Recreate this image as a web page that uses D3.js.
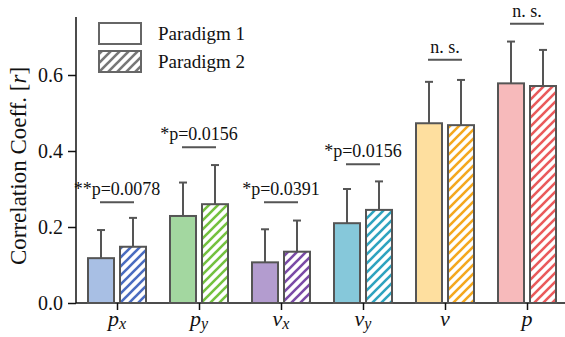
<!DOCTYPE html>
<html>
<head>
<meta charset="utf-8">
<script src="https://cdn.jsdelivr.net/npm/d3@7"></script>
<style>
  body { margin: 0; background: #fff; }
</style>
</head>
<body>
<div id="chart"></div>
<script>
// data
const categories = ["px", "py", "vx", "vy", "v", "p"]
const tickMain = ["p", "p", "v", "v", "v", "p"]
const tickSub = ["x", "y", "x", "y", "", ""]
const paradigm1 = [0.118, 0.229, 0.107, 0.210, 0.473, 0.578]
const paradigm1Err = [0.074, 0.088, 0.087, 0.090, 0.109, 0.110]
const paradigm2 = [0.148, 0.260, 0.135, 0.245, 0.468, 0.571]
const paradigm2Err = [0.076, 0.103, 0.082, 0.075, 0.119, 0.095]
const sigLabels = ["**p=0.0078", "*p=0.0156", "*p=0.0391", "*p=0.0156", "n. s.", "n. s."]
const sigLevel = [0.265, 0.41, 0.265, 0.365, 0.64, 0.735]
const fills = ["#a8bfe4", "#a3d7a0", "#b39ccf", "#86c8da", "#fedf9f", "#f7babb"]
const hatchColors = ["#4a6cc0", "#74c13f", "#7a4aa6", "#2ea3bf", "#f4a81f", "#ea5a5c"]
const yTicks = [0, 0.2, 0.4, 0.6]

const svgWidth = 565
const svgHeight = 337
const edge = "#555"
const serif = '"Liberation Serif"'

let svg = d3.select("#chart").append("svg")
  .attr("width", svgWidth)
  .attr("height", svgHeight)

const x = d3.scalePoint().domain(categories).range([117, 527])
const y = d3.scaleLinear().domain([0, 0.75]).range([303, 18])
const barW = 26, gap = 6

// hatch patterns, one per colour
const defs = svg.append("defs")
function hatch(id, color) {
  const p = defs.append("pattern")
    .attr("id", id)
    .attr("patternUnits", "userSpaceOnUse")
    .attr("width", 9).attr("height", 9)
  p.append("rect").attr("width", 9).attr("height", 9).attr("fill", "#fff")
  p.append("path")
    .attr("d", "M-2,2 L2,-2 M0,9 L9,0 M7,11 L11,7")
    .attr("stroke", color).attr("stroke-width", 2.6)
}
hatchColors.forEach((c, i) => hatch("h" + i, c))
hatch("hleg", "#777")

// axes
const yAxis = svg.append("g")
  .attr("transform", "translate(76,0)")
  .call(d3.axisLeft(y).tickValues(yTicks).tickFormat(d3.format(".1f")).tickSize(8).tickSizeOuter(0))
yAxis.select(".domain").attr("d", `M0,${y(0)}V17`)
yAxis.selectAll("line").attr("stroke", "#111").attr("stroke-width", 1.5)
yAxis.select(".domain").attr("stroke", "#111").attr("stroke-width", 1.5)
yAxis.selectAll("text").attr("font-size", 20).attr("fill", "#111").attr("x", -13)
  .style("font-family", serif)

const xAxis = svg.append("g")
  .attr("transform", `translate(0,${y(0)})`)
  .call(d3.axisBottom(x).tickSize(7).tickSizeOuter(0).tickFormat(""))
xAxis.select(".domain").attr("d", "M76,0H565").attr("stroke", "#111").attr("stroke-width", 1.5)
xAxis.selectAll("line").attr("stroke", "#111").attr("stroke-width", 1.5)

const xl = svg.append("g").selectAll("text")
  .data(categories)
  .join("text")
  .attr("x", d => x(d))
  .attr("y", 326)
  .attr("text-anchor", "middle")
  .attr("font-size", 22)
  .attr("font-style", "italic")
  .attr("fill", "#111")
  .style("font-family", serif)
xl.append("tspan").text((d, i) => tickMain[i])
xl.append("tspan").attr("font-size", 16).attr("dy", 3).text((d, i) => tickSub[i])

svg.append("text")
  .attr("transform", "translate(26,166) rotate(-90)")
  .attr("text-anchor", "middle")
  .attr("font-size", 23)
  .attr("fill", "#111")
  .style("font-family", serif)
  .html('Correlation Coeff. [<tspan font-style="italic">r</tspan>]')

function drawBars(vals, errs, offset, fillFn) {
  const g = svg.append("g")
  g.selectAll("line.err")
    .data(categories)
    .join("line")
    .attr("x1", d => x(d) + offset).attr("x2", d => x(d) + offset)
    .attr("y1", (d, i) => y(vals[i])).attr("y2", (d, i) => y(vals[i] + errs[i]))
    .attr("stroke", edge).attr("stroke-width", 2)
  g.selectAll("line.cap")
    .data(categories)
    .join("line")
    .attr("x1", d => x(d) + offset - 4).attr("x2", d => x(d) + offset + 4)
    .attr("y1", (d, i) => y(vals[i] + errs[i])).attr("y2", (d, i) => y(vals[i] + errs[i]))
    .attr("stroke", edge).attr("stroke-width", 2)
  g.selectAll("rect")
    .data(categories)
    .join("rect")
    .attr("x", d => x(d) + offset - barW / 2)
    .attr("y", (d, i) => y(vals[i]))
    .attr("width", barW)
    .attr("height", (d, i) => y(0) - y(vals[i]))
    .attr("fill", fillFn)
    .attr("stroke", edge).attr("stroke-width", 2)
}
drawBars(paradigm1, paradigm1Err, -(barW + gap) / 2, (d, i) => fills[i])
drawBars(paradigm2, paradigm2Err, (barW + gap) / 2, (d, i) => `url(#h${i})`)

// significance marks
const sig = svg.append("g")
sig.selectAll("line")
  .data(categories)
  .join("line")
  .attr("x1", d => x(d) - 17).attr("x2", d => x(d) + 17)
  .attr("y1", (d, i) => y(sigLevel[i])).attr("y2", (d, i) => y(sigLevel[i]))
  .attr("stroke", edge).attr("stroke-width", 2)
sig.selectAll("text")
  .data(categories)
  .join("text")
  .attr("x", d => x(d))
  .attr("y", (d, i) => y(sigLevel[i]) - 7)
  .attr("text-anchor", "middle")
  .attr("font-size", 18)
  .attr("fill", "#111")
  .style("font-family", serif)
  .text((d, i) => sigLabels[i])

// legend
const leg = svg.append("g")
const legItems = ["Paradigm 1", "Paradigm 2"]
leg.selectAll("rect")
  .data(legItems)
  .join("rect")
  .attr("x", 99).attr("y", (d, i) => 23 + i * 28)
  .attr("width", 42).attr("height", 21)
  .attr("fill", (d, i) => i ? "url(#hleg)" : "#fff")
  .attr("stroke", "#666").attr("stroke-width", 2)
leg.selectAll("text")
  .data(legItems)
  .join("text")
  .attr("x", 158).attr("y", (d, i) => 40 + i * 28)
  .attr("font-size", 19)
  .attr("fill", "#111")
  .style("font-family", serif)
  .text(d => d)
</script>
</body>
</html>
